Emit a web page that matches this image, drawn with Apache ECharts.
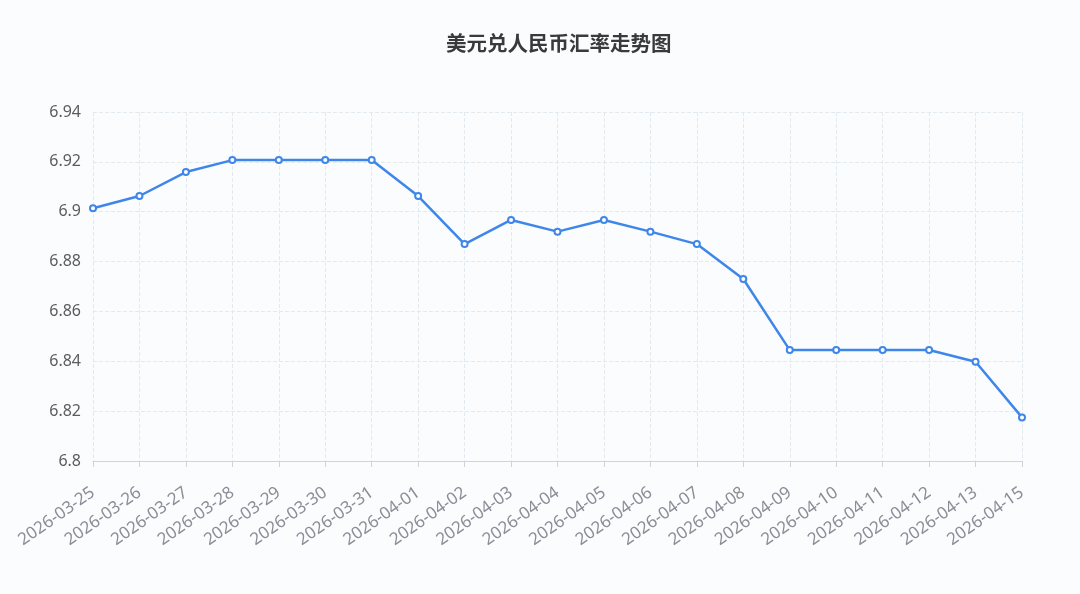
<!DOCTYPE html>
<html><head><meta charset="utf-8">
<script src="https://cdn.jsdelivr.net/npm/echarts@6/dist/echarts.min.js"></script>
<style>html,body{margin:0;padding:0;background:#fbfcfe;}#c{width:1080px;height:594px;}</style>
</head><body><div id="c"></div>
<script>
const categories = ['2026-03-25','2026-03-26','2026-03-27','2026-03-28','2026-03-29','2026-03-30','2026-03-31','2026-04-01','2026-04-02','2026-04-03','2026-04-04','2026-04-05','2026-04-06','2026-04-07','2026-04-08','2026-04-09','2026-04-10','2026-04-11','2026-04-12','2026-04-13','2026-04-15'];
const rates = [6.9014,6.9063,6.9159,6.9207,6.9207,6.9207,6.9207,6.9063,6.8870,6.8967,6.8920,6.8967,6.8920,6.8870,6.8730,6.8445,6.8445,6.8445,6.8445,6.8398,6.8175];
const chart = echarts.init(document.getElementById('c'));
chart.setOption({
  backgroundColor: '#fbfcfe',
  textStyle: { fontFamily: 'Noto Sans' },
  title: { text: '美元兑人民币汇率走势图', left: 441, top: 28,
    textStyle: { fontSize: 20.5, fontWeight: 'bold', color: '#3a3a3a', fontFamily: 'Noto Sans CJK SC' } },
  grid: { left: 93, right: 58, top: 112, bottom: 133 },
  xAxis: { type: 'category', data: categories, boundaryGap: false,
    axisLine: { lineStyle: { color: '#d0d4da' } },
    axisTick: { length: 6, lineStyle: { color: '#d0d4da' } },
    axisLabel: { rotate: 35, color: '#8a8e96', fontSize: 17, interval: 0, margin: 30, fontFamily: 'Noto Sans' },
    splitLine: { show: true, lineStyle: { type: 'dashed', color: '#e2e9ef' } } },
  yAxis: { type: 'value', min: 6.8, max: 6.94, interval: 0.02,
    axisLabel: { color: '#5c5c5c', fontSize: 16, margin: 12, fontFamily: 'Noto Sans' },
    axisLine: { show: false }, axisTick: { show: false },
    splitLine: { lineStyle: { type: 'dashed', color: '#e2e9ef' } } },
  series: [{ type: 'line', data: rates, symbol: 'emptyCircle', symbolSize: 6,
    lineStyle: { color: '#3f86ea', width: 2.5 },
    itemStyle: { color: '#3f86ea', borderWidth: 2 } }]
});
</script></body></html>
